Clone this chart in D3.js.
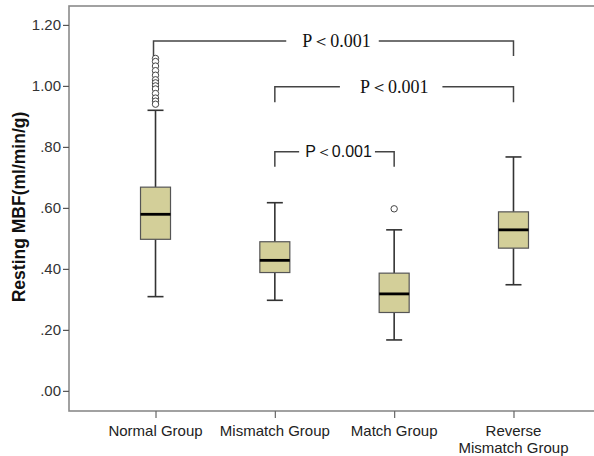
<!DOCTYPE html>
<html><head><meta charset="utf-8">
<script src="https://cdn.jsdelivr.net/npm/d3@7"></script>
<style>html,body{margin:0;padding:0;background:#fff;overflow:hidden}</style>
</head><body>
<svg id="chart" width="594" height="456"></svg>
<script>
// ---- data ----
const categories = ["Normal Group", "Mismatch Group", "Match Group", "Reverse Mismatch Group"];
const categoryLines = [["Normal Group"], ["Mismatch Group"], ["Match Group"], ["Reverse", "Mismatch Group"]];
const whiskerLow  = [0.309, 0.297, 0.167, 0.348];
const q1          = [0.497, 0.388, 0.257, 0.468];
const median      = [0.579, 0.428, 0.318, 0.528];
const q3          = [0.668, 0.489, 0.386, 0.587];
const whiskerHigh = [0.920, 0.617, 0.528, 0.767];
const outliers = [
  [1.09, 1.08, 1.065, 1.05, 1.035, 1.02, 1.01, 1.0, 0.99, 0.975, 0.96, 0.95, 0.94],
  [],
  [0.597],
  []
];
const yTickValues = [0, 0.2, 0.4, 0.6, 0.8, 1.0, 1.2];
const yTickLabels = [".00", ".20", ".40", ".60", ".80", "1.00", "1.20"];
const yLabel = "Resting MBF(ml/min/g)";
const bracketFrom  = ["Normal Group", "Mismatch Group", "Mismatch Group"];
const bracketTo    = ["Reverse Mismatch Group", "Reverse Mismatch Group", "Match Group"];
const bracketLevel = [1.147, 0.997, 0.784];
const bracketDrop  = [1.098, 0.946, 0.735];
const bracketText  = ["P＜0.001", "P＜0.001", "P＜0.001"];

// ---- layout ----
const svg = d3.select("#chart");
const mLeft = 69, mRight = 600, mTop = 6, mBottom = 411;
const x = d3.scalePoint().domain(categories).range([mLeft, mRight]).padding(0.725);
const y = d3.scaleLinear().domain([-0.066, 1.262]).range([mBottom, mTop]);
const boxW = 30, capW = 16;

// frame
svg.append("rect").attr("x", mLeft).attr("y", mTop).attr("width", mRight - mLeft).attr("height", mBottom - mTop)
  .attr("fill", "none").attr("stroke", "#8a8a8a").attr("stroke-width", 1.6);

// y axis
const yAxis = d3.axisLeft(y).tickValues(yTickValues).tickSize(6).tickPadding(2)
  .tickFormat((d, i) => yTickLabels[i]);
const gy = svg.append("g").attr("transform", `translate(${mLeft},0)`).call(yAxis);
gy.select(".domain").remove();
gy.selectAll(".tick line").attr("stroke", "#555").attr("stroke-width", 1.2);
gy.selectAll(".tick text").attr("font-family", "'Liberation Sans', Arial, sans-serif")
  .attr("font-size", 15).attr("fill", "#333");

// x axis
const xAxis = d3.axisBottom(x).tickSize(7).tickFormat("");
const gx = svg.append("g").attr("transform", `translate(0,${mBottom})`).call(xAxis);
gx.select(".domain").remove();
gx.selectAll(".tick line").attr("stroke", "#666").attr("stroke-width", 1.2);
categories.forEach((c, i) => {
  const t = svg.append("text").attr("x", x(c)).attr("y", 436).attr("text-anchor", "middle")
    .attr("font-family", "'Liberation Sans', Arial, sans-serif").attr("font-size", 15).attr("fill", "#222");
  categoryLines[i].forEach((ln, j) => {
    t.append("tspan").attr("x", x(c)).attr("dy", j === 0 ? 0 : 16.5).text(ln);
  });
});

// y label
svg.append("text").attr("transform", `translate(25,207) rotate(-90)`).attr("text-anchor", "middle")
  .attr("font-family", "'Liberation Sans', Arial, sans-serif").attr("font-size", 17.5)
  .attr("font-weight", "bold").attr("fill", "#111").text(yLabel);

// boxes
categories.forEach((c, i) => {
  const cx = x(c);
  const g = svg.append("g");
  g.append("line").attr("x1", cx).attr("x2", cx).attr("y1", y(whiskerLow[i])).attr("y2", y(q1[i]))
    .attr("stroke", "#333").attr("stroke-width", 1.6);
  g.append("line").attr("x1", cx).attr("x2", cx).attr("y1", y(q3[i])).attr("y2", y(whiskerHigh[i]))
    .attr("stroke", "#333").attr("stroke-width", 1.6);
  [whiskerLow[i], whiskerHigh[i]].forEach(v => {
    g.append("line").attr("x1", cx - capW / 2).attr("x2", cx + capW / 2).attr("y1", y(v)).attr("y2", y(v))
      .attr("stroke", "#333").attr("stroke-width", 1.6);
  });
  g.append("rect").attr("x", cx - boxW / 2).attr("y", y(q3[i])).attr("width", boxW)
    .attr("height", y(q1[i]) - y(q3[i])).attr("fill", "#d3cf99").attr("stroke", "#555").attr("stroke-width", 1.2);
  g.append("line").attr("x1", cx - boxW / 2).attr("x2", cx + boxW / 2).attr("y1", y(median[i])).attr("y2", y(median[i]))
    .attr("stroke", "#000").attr("stroke-width", 2.8);
  outliers[i].forEach(v => {
    g.append("circle").attr("cx", cx).attr("cy", y(v)).attr("r", 3.2)
      .attr("fill", "#fff").attr("stroke", "#444").attr("stroke-width", 1);
  });
});

// brackets
const bracketStyle = [
  {font: "'Liberation Serif', 'Times New Roman', serif", size: 18, gapL: 16, gapR: 8, dx: 3},
  {font: "'Liberation Serif', 'Times New Roman', serif", size: 18, gapL: 20, gapR: 14, dx: 0},
  {font: "'Liberation Sans', Arial, sans-serif", size: 16, gapL: 6, gapR: 3, dx: 4}
];
bracketFrom.forEach((f, i) => {
  const x1 = x(f) - (i === 0 ? 2 : 0), x2 = x(bracketTo[i]);
  const yl = y(bracketLevel[i]), yd = y(bracketDrop[i]);
  const st = bracketStyle[i];
  const mid = (x1 + x2) / 2 + st.dx;
  const t = svg.append("text").attr("x", mid).attr("y", yl).attr("dy", "0.35em").attr("text-anchor", "middle")
    .attr("font-family", st.font).attr("font-size", st.size).attr("fill", "#111").text(bracketText[i]);
  const bb = t.node().getBBox();
  const g = svg.append("g").attr("fill", "none").attr("stroke", "#444").attr("stroke-width", 1.5);
  g.append("path").attr("d", `M${x1},${yd}V${yl}H${bb.x - st.gapL}`);
  g.append("path").attr("d", `M${bb.x + bb.width + st.gapR},${yl}H${x2}V${yd}`);
});
</script>
</body></html>
